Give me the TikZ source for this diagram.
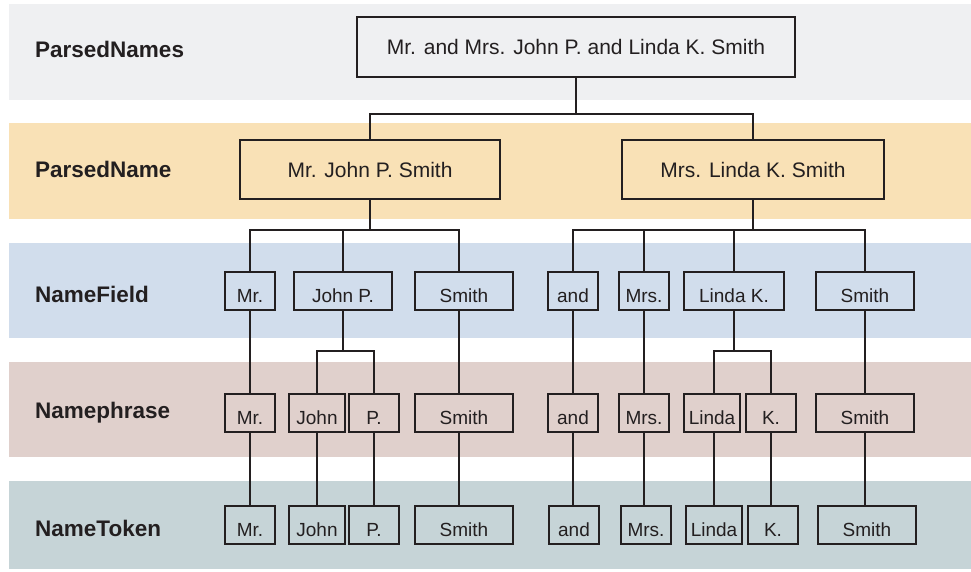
\documentclass[tikz,border=0pt]{standalone}
\usepackage{fontspec}
\setmainfont{Liberation Sans}

\definecolor{ink}{HTML}{231F20}
\definecolor{bandA}{HTML}{EFF0F2}
\definecolor{bandB}{HTML}{F9E1B6}
\definecolor{bandC}{HTML}{D1DDEC}
\definecolor{bandD}{HTML}{E0D0CC}
\definecolor{bandE}{HTML}{C6D4D7}

\tikzstyle{level} = [anchor=west,inner sep=0,text=ink,font=\bfseries\fontsize{22.5}{27}\selectfont,text height=1.5ex,text depth=0.25ex]
\tikzstyle{word} = [draw=ink,line width=1.5pt,inner sep=0,text=ink,font=\fontsize{19}{22}\selectfont,minimum height=38pt,text height=22pt,text depth=0pt]
\tikzstyle{phrase} = [draw=ink,line width=1.5pt,inner sep=0,text=ink,font=\fontsize{21}{25}\selectfont,minimum height=59pt]
\tikzstyle{link} = [draw=ink,line width=1.5pt]
\tikzset{fork/.style={to path={(\tikztostart) -- ++(0,#1) -| (\tikztotarget)}}}

\begin{document}
\begin{tikzpicture}[x=1pt,y=-1pt,>=latex]
	\useasboundingbox (0,0) rectangle (971,571);

	% bands
	\fill[bandA] (9,4) rectangle (971,100);
	\fill[bandB] (9,123) rectangle (971,219);
	\fill[bandC] (9,243) rectangle (971,338);
	\fill[bandD] (9,362) rectangle (971,457);
	\fill[bandE] (9,481) rectangle (971,569);

	\node (l_names) [level] at (35,54) {ParsedNames};
	\node (l_name) [level] at (35,174) {ParsedName};
	\node (l_field) [level] at (35,299) {NameField};
	\node (l_phrase) [level] at (35,415) {Namephrase};
	\node (l_token) [level] at (35,533) {NameToken};

	\node (names) [phrase,minimum width=438pt,minimum height=60pt] at (576,47) {Mr. and Mrs. John P. and Linda K. Smith};
	\node (name_1) [phrase,minimum width=260pt] at (370,169.5) {Mr. John P. Smith};
	\node (name_2) [phrase,minimum width=262pt] at (753,169.5) {Mrs. Linda K. Smith};

	\node (f_1) [word,minimum width=50pt] at (250,291) {Mr.};
	\node (f_2) [word,minimum width=98pt] at (343,291) {John P.};
	\node (f_3) [word,minimum width=98pt] at (464,291) {Smith};
	\node (f_4) [word,minimum width=50pt] at (573,291) {and};
	\node (f_5) [word,minimum width=50pt] at (644,291) {Mrs.};
	\node (f_6) [word,minimum width=100pt] at (734,291) {Linda K.};
	\node (f_7) [word,minimum width=98pt] at (865,291) {Smith};

	\node (p_1) [word,minimum width=50pt] at (250,413) {Mr.};
	\node (p_2) [word,minimum width=56pt] at (317,413) {John};
	\node (p_3) [word,minimum width=50pt] at (374,413) {P.};
	\node (p_4) [word,minimum width=98pt] at (464,413) {Smith};
	\node (p_5) [word,minimum width=50pt] at (573,413) {and};
	\node (p_6) [word,minimum width=50pt] at (644,413) {Mrs.};
	\node (p_7) [word,minimum width=56pt] at (712,413) {Linda};
	\node (p_8) [word,minimum width=50pt] at (771,413) {K.};
	\node (p_9) [word,minimum width=98pt] at (865,413) {Smith};

	\node (t_1) [word,minimum width=50pt] at (250,525) {Mr.};
	\node (t_2) [word,minimum width=56pt] at (317,525) {John};
	\node (t_3) [word,minimum width=50pt] at (374,525) {P.};
	\node (t_4) [word,minimum width=98pt] at (464,525) {Smith};
	\node (t_5) [word,minimum width=50pt] at (574,525) {and};
	\node (t_6) [word,minimum width=50pt] at (646,525) {Mrs.};
	\node (t_7) [word,minimum width=56pt] at (714,525) {Linda};
	\node (t_8) [word,minimum width=50pt] at (773,525) {K.};
	\node (t_9) [word,minimum width=98pt] at (867,525) {Smith};

	\path
		(names.south) edge[link,fork=36] (name_1.north)
		(names.south) edge[link,fork=36] (name_2.north)

		(name_1.south) edge[link,fork=30] (f_1.north)
		(name_1.south) edge[link,fork=30] (f_2.north)
		(name_1.south) edge[link,fork=30] ([xshift=-5pt]f_3.north)
		(name_2.south) edge[link,fork=30] (f_4.north)
		(name_2.south) edge[link,fork=30] (f_5.north)
		(name_2.south) edge[link,fork=30] (f_6.north)
		(name_2.south) edge[link,fork=30] (f_7.north)

		(f_1.south) edge[link] (p_1.north)
		(f_2.south) edge[link,fork=40] (p_2.north)
		(f_2.south) edge[link,fork=40] (p_3.north)
		([xshift=-5pt]f_3.south) edge[link] ([xshift=-5pt]p_4.north)
		(f_4.south) edge[link] (p_5.north)
		(f_5.south) edge[link] (p_6.north)
		(f_6.south) edge[link,fork=40] ([xshift=2pt]p_7.north)
		(f_6.south) edge[link,fork=40] (p_8.north)
		(f_7.south) edge[link] (p_9.north)

		(p_1.south) edge[link] (t_1.north)
		(p_2.south) edge[link] (t_2.north)
		(p_3.south) edge[link] (t_3.north)
		([xshift=-5pt]p_4.south) edge[link] ([xshift=-5pt]t_4.north)
		(p_5.south) edge[link] (p_5.south |- t_5.north)
		(p_6.south) edge[link] (p_6.south |- t_6.north)
		([xshift=2pt]p_7.south) edge[link] ([xshift=2pt]p_7.south |- t_7.north)
		(p_8.south) edge[link] (p_8.south |- t_8.north)
		(p_9.south) edge[link] (p_9.south |- t_9.north)
		;

\end{tikzpicture}
\end{document}
